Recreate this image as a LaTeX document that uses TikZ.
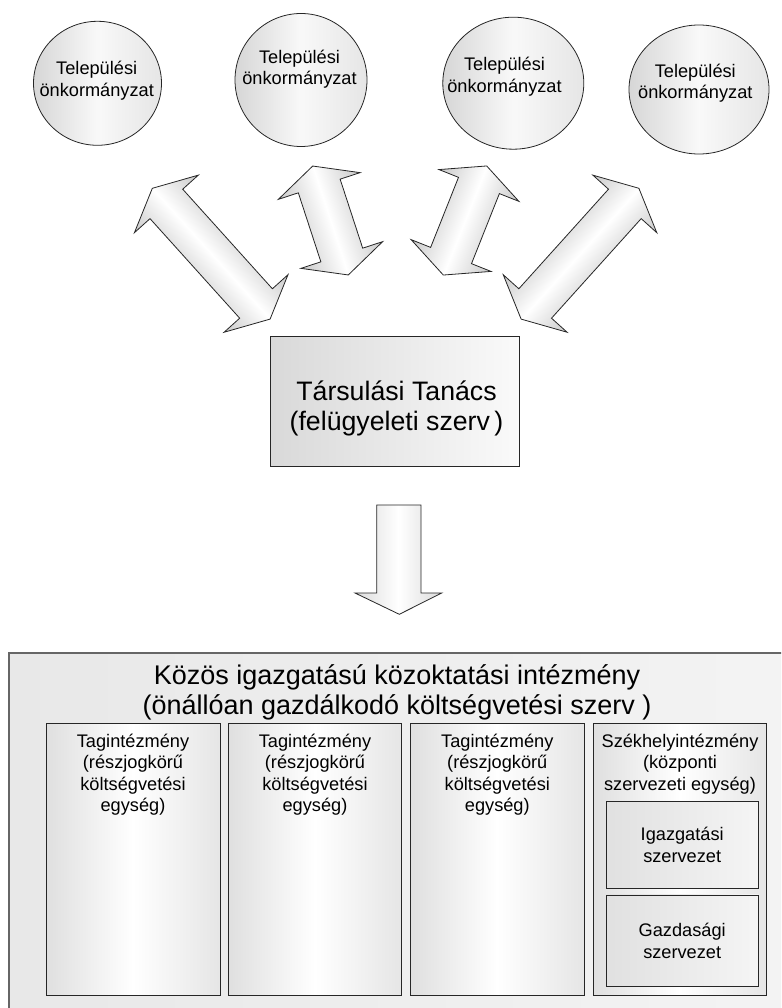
\documentclass[tikz,border=0pt]{standalone}
\usepackage{fontspec}
\setmainfont{Liberation Sans}
\usetikzlibrary{shapes.geometric}
\tikzset{
  outl/.style={draw=black!85, line width=0.8pt},
  circ/.style={outl, ellipse, inner sep=0pt, left color=gray!32, right color=gray!20, middle color=gray!5},
  smalltxt/.style={font=\fontsize{18.2}{21.3}\selectfont, align=center, inner sep=0pt},
  bigtxt/.style={font=\fontsize{27}{29.8}\selectfont, align=center, inner sep=0pt},
  arrshade/.style={outl, top color=gray!42, bottom color=gray!42, middle color=white},
  unitbox/.style={outl, rectangle, inner sep=0pt, left color=gray!25, right color=gray!20, middle color=white},
  innerbox/.style={outl, rectangle, inner sep=0pt, left color=gray!24, right color=gray!8, font=\fontsize{18.2}{21.3}\selectfont, align=center},
}
\newcommand\dblarrow[4]{%
  \begin{scope}[transform canvas={shift={(#1,#2)},rotate=#3}]
    \path[arrshade] (-#4,0) -- ({-#4+21},43) -- ({-#4+21},22) -- ({#4-21},22) -- ({#4-21},43)
      -- (#4,0) -- ({#4-21},-43) -- ({#4-21},-22) -- ({-#4+21},-22) -- ({-#4+21},-43) -- cycle;
  \end{scope}}
\begin{document}
\begin{tikzpicture}[x=1pt,y=-1pt]
\useasboundingbox (0,0) rectangle (781,1008);
\clip (0,0) rectangle (781,1008);

% municipalities
\node[circ, minimum width=128pt, minimum height=124pt] (c1) at (97.5,83.3) {};
\node[circ, minimum width=132pt, minimum height=133pt] (c2) at (301,80) {};
\node[circ, minimum width=141pt, minimum height=132pt] (c3) at (513.3,83.2) {};
\node[circ, minimum width=140pt, minimum height=129pt] (c4) at (699,89.5) {};
\node[smalltxt] (t1) at (96.7,80.7) {Települési\\önkormányzat};
\node[smalltxt] (t2) at (299.5,69.2) {Települési\\önkormányzat};
\node[smalltxt] (t3) at (504.5,76.7) {Települési\\önkormányzat};
\node[smalltxt] (t4) at (695.3,83.4) {Települési\\önkormányzat};

% double block arrows
\dblarrow{211.2}{253.7}{-48}{88}
\dblarrow{330.5}{220.5}{-71.9}{57.3}
\dblarrow{465}{220.5}{-111.7}{58.7}
\dblarrow{580}{253.7}{-132}{88}

% council
\node[outl, rectangle, inner sep=0pt, minimum width=249pt, minimum height=130pt,
      left color=gray!30, right color=gray!4] (tt) at (394.5,401) {};
\node[bigtxt, font=\fontsize{26.7}{29.5}\selectfont] (ttx) at (396.5,408.4) {Társulási Tanács\\(felügyeleti szerv\,)};

% down arrow
\path[outl, left color=gray!28, right color=gray!28, middle color=white]
  (376.7,505) -- (421,505) -- (421,593) -- (441.7,593) -- (399.3,614.3)
  -- (355,593) -- (376.7,593) -- cycle;

% institution
\node[draw=black!60, line width=1.2pt, rectangle, inner sep=0pt, minimum width=776pt, minimum height=362pt,
      left color=gray!18, right color=gray!9] (inst) at (397,834) {};
\node[bigtxt] (title) at (397,692) {Közös igazgatású közoktatási intézmény\\(önállóan gazdálkodó költségvetési szerv )};

\node[unitbox, minimum width=174pt, minimum height=271.7pt] (ua) at (133,859.2) {};
\node[unitbox, minimum width=173.4pt, minimum height=271.7pt] (ub) at (315,859.2) {};
\node[unitbox, minimum width=173.3pt, minimum height=271.7pt] (uc) at (497.3,859.2) {};
\node[unitbox, minimum width=173.4pt, minimum height=271.7pt] (ud) at (680,859.2) {};

\node[smalltxt, anchor=north] (ta) at (133,733.8) {Tagintézmény\\(részjogkörű\\költségvetési\\egység)};
\node[smalltxt, anchor=north] (tb) at (315,733.8) {Tagintézmény\\(részjogkörű\\költségvetési\\egység)};
\node[smalltxt, anchor=north] (tc) at (497.3,733.8) {Tagintézmény\\(részjogkörű\\költségvetési\\egység)};
\node[smalltxt, anchor=north] (td) at (680,733.8) {Székhelyintézmény\\(központi\\szervezeti egység)};

\node[innerbox, minimum width=152.3pt, minimum height=86.6pt] (ig) at (682.2,845) {Igazgatási\\szervezet};
\node[innerbox, minimum width=152.3pt, minimum height=91.7pt] (gz) at (682.2,940.8) {Gazdasági\\szervezet};
\end{tikzpicture}
\end{document}
